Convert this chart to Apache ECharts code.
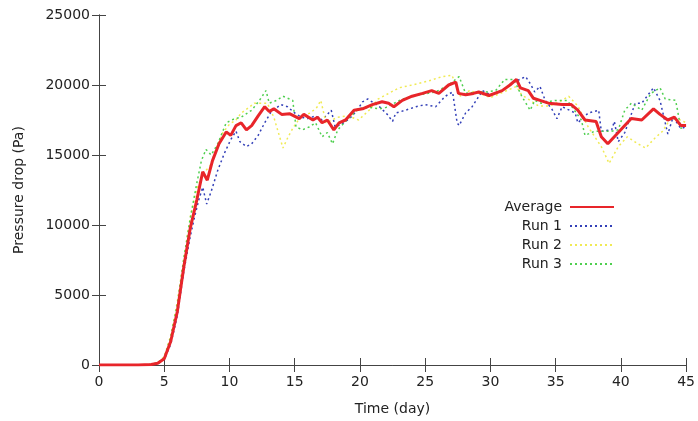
<!DOCTYPE html>
<html>
<head>
<meta charset="utf-8">
<script src="https://cdn.jsdelivr.net/npm/echarts@6/dist/echarts.min.js"></script>
<style>html,body{margin:0;padding:0;background:#fff}#c{width:698px;height:421px}</style>
</head>
<body>
<div id="c"></div>
<script>
const xTicks = [0, 5, 10, 15, 20, 25, 30, 35, 40, 45];
const yTicks = [0, 5000, 10000, 15000, 20000, 25000];
const seriesNames = ['Average', 'Run 1', 'Run 2', 'Run 3'];

const averageData = [[0,0],[1,0],[2,0],[3,0],[4,30],[4.5,120],[5,450],[5.5,1700],[6,3800],[6.5,7000],[7,9800],[7.5,11800],[7.95,13800],[8.3,13200],[8.7,14600],[9.2,15800],[9.75,16650],[10.1,16400],[10.5,17100],[10.9,17300],[11.3,16800],[11.7,17100],[12.2,17800],[12.7,18450],[13.05,18100],[13.4,18300],[14,17900],[14.6,17950],[15.35,17600],[15.7,17900],[16.4,17500],[16.75,17700],[17.1,17300],[17.5,17500],[18.0,16800],[18.4,17300],[18.9,17500],[19.55,18200],[20.2,18300],[20.95,18600],[21.7,18800],[22.2,18700],[22.6,18450],[23.25,18900],[24.0,19200],[24.8,19400],[25.5,19600],[26.05,19400],[26.8,20000],[27.35,20200],[27.55,19400],[28.1,19300],[28.7,19400],[29.1,19500],[29.9,19250],[30.9,19600],[31.5,20000],[32.0,20400],[32.3,19800],[32.9,19600],[33.3,19050],[33.8,18900],[34.45,18700],[35.5,18600],[36.2,18600],[36.7,18200],[37.25,17500],[38.1,17400],[38.5,16300],[39.0,15800],[39.5,16300],[40.3,17100],[40.8,17600],[41.6,17500],[42.5,18300],[43.0,17900],[43.6,17500],[44.1,17700],[44.6,17100],[45,17100]];

const run1Data = [[0,0],[1,0],[2,0],[3,0],[4,20],[4.5,90],[5,380],[5.5,1500],[6,3500],[6.5,6700],[7,9200],[7.33,10600],[7.65,11800],[7.95,12700],[8.25,11500],[8.6,12400],[9.1,13900],[9.6,15100],[10.1,16100],[10.5,16700],[10.8,15950],[11.3,15600],[11.7,15800],[12.2,16400],[12.7,17300],[13.2,18100],[13.95,18600],[14.45,18450],[15.0,18000],[15.5,17700],[16.0,17600],[16.6,17800],[17.1,17500],[17.8,18200],[18.1,17000],[18.6,17200],[19.2,17600],[19.8,18200],[20.2,18800],[20.6,19000],[21.5,18450],[22.1,17900],[22.5,17400],[22.75,18000],[23.5,18200],[24.3,18450],[25.0,18600],[25.8,18450],[26.55,19200],[27.1,19500],[27.45,17300],[27.6,17100],[28.1,18000],[28.6,18450],[29.4,19600],[30.0,19300],[30.9,19600],[31.8,20200],[32.7,20600],[33.05,20100],[33.4,19500],[33.8,19900],[34.2,18900],[34.7,18300],[35.1,17600],[35.5,18450],[36.5,18000],[36.7,17300],[37.5,18000],[38.3,18200],[38.5,16700],[39.3,16800],[39.5,17400],[39.8,15950],[40.3,16600],[41.1,18700],[41.6,18700],[42.5,19800],[43.0,18900],[43.6,16500],[44.0,17700],[44.6,16900],[45,17000]];

const run2Data = [[0,0],[1,0],[2,0],[3,0],[4,40],[4.5,160],[5,600],[5.5,2100],[6,4500],[6.5,7600],[7,10600],[7.5,12600],[8,13700],[8.5,14200],[9,15500],[9.5,16600],[10,17200],[10.5,17500],[10.9,18000],[11.5,18400],[11.9,18700],[12.9,18700],[13.4,17700],[14.1,15500],[14.5,16300],[14.85,16900],[15.5,17800],[16.2,18000],[16.7,18400],[17.0,18900],[17.4,17300],[18.3,17700],[19.1,17800],[19.9,17500],[20.7,18200],[21.4,19000],[22.2,19400],[23.0,19800],[24.0,20000],[25.3,20300],[26.3,20600],[27.05,20700],[27.7,19200],[28.4,19600],[29.2,19400],[30.0,19100],[31.0,19500],[32.0,19900],[32.4,19300],[33.7,18500],[34.5,18500],[35.3,18800],[36.0,19200],[36.7,18500],[37.5,17000],[38.5,15600],[39.1,14400],[39.8,15600],[40.5,16300],[41.3,15800],[41.9,15500],[42.6,16200],[43.2,16700],[43.8,17600],[44.6,17500],[45,17300]];

const run3Data = [[0,0],[1,0],[2,0],[3,0],[4,40],[4.5,150],[5,520],[5.5,2000],[6,4300],[6.5,7600],[7,10500],[7.5,13000],[7.85,14600],[8.2,15400],[8.6,15000],[9.1,15800],[9.75,17300],[10.4,17600],[10.9,17700],[11.7,18200],[12.3,18900],[12.8,19600],[13.05,18700],[13.6,18900],[14.1,19200],[14.85,18900],[15.1,17000],[15.6,16800],[16.1,17000],[16.6,17300],[17.1,16300],[17.5,16600],[17.9,15800],[18.3,16800],[18.9,17400],[19.9,18300],[20.7,18400],[21.5,18300],[22.0,18400],[23.25,19000],[24.6,19300],[25.8,19500],[26.8,20000],[27.6,20600],[28.1,19400],[28.9,19500],[29.6,19500],[30.4,19600],[31.1,20400],[31.8,20400],[32.4,19200],[33.05,18200],[33.4,18900],[33.9,18700],[34.95,18900],[35.9,18900],[36.97,17500],[37.25,16400],[38.0,16700],[38.6,16700],[39.3,16700],[39.8,16800],[40.3,18200],[40.8,18700],[41.6,18200],[42.3,19400],[43.0,19800],[43.4,19000],[44.2,18900],[44.6,16900],[45,17200]];

const FONT = 'DejaVu Sans';
const AX = '#444';
const chart = echarts.init(document.getElementById('c'), null, {renderer: 'canvas'});

function runSeries(name, data, color) {
  return {
    name: name, type: 'line', data: data, showSymbol: false, symbol: 'none',
    xAxisIndex: 0, yAxisIndex: 0, animation: false,
    lineStyle: {color: color, width: 1.5, type: [2, 3]},
    itemStyle: {color: color}
  };
}

chart.setOption({
  animation: false,
  backgroundColor: '#fff',
  grid: {left: 99, right: 10, top: 15, bottom: 56, show: false},
  legend: {
    data: seriesNames,
    orient: 'vertical',
    align: 'right',
    right: 78,
    top: 194,
    itemWidth: 44,
    itemHeight: 14,
    itemGap: 3,
    itemStyle: {opacity: 0},
    textStyle: {fontFamily: FONT, fontSize: 14, color: '#222', lineHeight: 16, padding: [0, 3, 0, 0]}
  },
  xAxis: [{
    type: 'value', min: 0, max: 45, interval: 5, position: 'bottom',
    name: 'Time (day)', nameLocation: 'middle', nameGap: 37,
    nameTextStyle: {fontFamily: FONT, fontSize: 14, color: '#222'},
    axisLine: {show: true, lineStyle: {color: AX, width: 1}},
    axisTick: {show: true, inside: true, length: 7, lineStyle: {color: AX}},
    axisLabel: {fontFamily: FONT, fontSize: 14, color: '#222', margin: 10,
      formatter: v => xTicks.includes(v) ? String(v) : ''},
    splitLine: {show: false}
  }, {
    type: 'value', min: 0, max: 45, interval: 5, position: 'top',
    axisLine: {show: true, lineStyle: {color: AX, width: 1}},
    axisTick: {show: true, inside: true, length: 7, lineStyle: {color: AX}},
    axisLabel: {show: false}, splitLine: {show: false}
  }],
  yAxis: [{
    type: 'value', min: 0, max: 25000, interval: 5000, position: 'left',
    name: 'Pressure drop (Pa)', nameLocation: 'middle', nameGap: 73, nameRotate: 90,
    nameTextStyle: {fontFamily: FONT, fontSize: 14, color: '#222'},
    axisLine: {show: true, lineStyle: {color: AX, width: 1}},
    axisTick: {show: true, inside: true, length: 7, lineStyle: {color: AX}},
    axisLabel: {fontFamily: FONT, fontSize: 14, color: '#222', margin: 9,
      formatter: v => yTicks.includes(v) ? String(v) : ''},
    splitLine: {show: false}
  }, {
    type: 'value', min: 0, max: 25000, interval: 5000, position: 'right',
    axisLine: {show: true, lineStyle: {color: AX, width: 1}},
    axisTick: {show: true, inside: true, length: 7, lineStyle: {color: AX}},
    axisLabel: {show: false}, splitLine: {show: false}
  }],
  series: [
    runSeries('Run 1', run1Data, '#3340b8'),
    runSeries('Run 2', run2Data, '#f0ea55'),
    runSeries('Run 3', run3Data, '#4fcf4f'),
    {
      name: 'Average', type: 'line', data: averageData, showSymbol: false, symbol: 'none',
      xAxisIndex: 0, yAxisIndex: 0,
      lineStyle: {color: '#e8252a', width: 3},
      itemStyle: {color: '#e8252a'}
    }
  ]
});
</script>
</body>
</html>
